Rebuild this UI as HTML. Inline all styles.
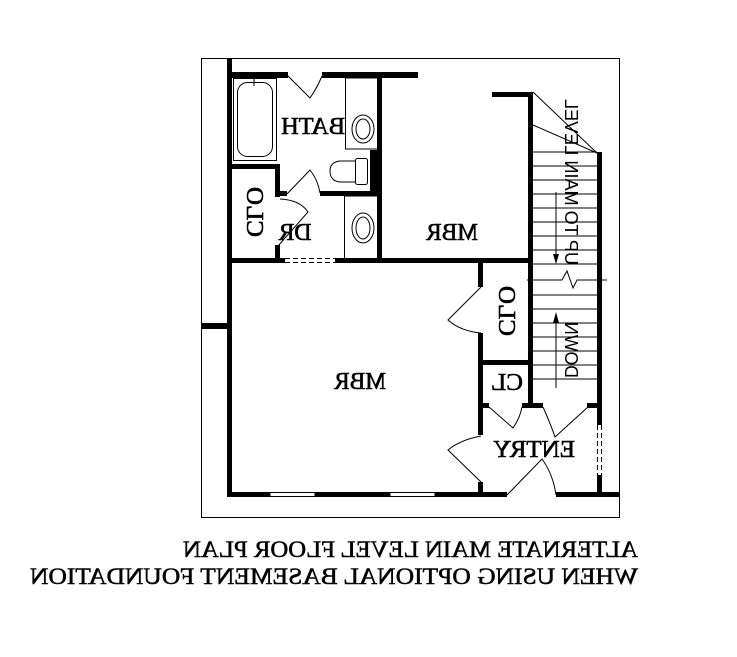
<!DOCTYPE html>
<html><head><meta charset="utf-8"><style>
html,body{margin:0;padding:0;background:#fff;}
svg{display:block;}
text{font-family:"Liberation Serif",serif;fill:#000;}
.s{font-family:"Liberation Sans",sans-serif;}
</style></head><body>
<svg width="737" height="657" viewBox="0 0 737 657" xmlns="http://www.w3.org/2000/svg">
<rect x="0" y="0" width="737" height="657" fill="#fff"/>
<rect x="201.5" y="58.5" width="418" height="459" fill="none" stroke="#000" stroke-width="1"/>
<g fill="#000">
<rect x="227" y="58" width="5" height="439"/>
<rect x="227" y="72" width="61" height="6"/>
<rect x="322" y="72" width="96" height="6"/>
<rect x="377" y="72" width="5" height="191"/>
<rect x="492" y="92" width="41" height="5"/>
<rect x="528" y="92" width="5" height="315"/>
<rect x="597" y="152" width="5" height="273"/>
<rect x="597" y="475" width="5" height="22"/>
<rect x="227" y="164" width="53" height="5"/>
<rect x="275" y="164" width="5" height="33"/>
<rect x="275" y="191" width="12" height="5"/>
<rect x="275" y="245" width="5" height="18"/>
<rect x="320" y="191" width="62" height="5"/>
<rect x="370" y="150" width="10" height="44"/>
<rect x="227" y="258" width="58" height="5"/>
<rect x="335" y="258" width="198" height="5"/>
<rect x="201" y="323" width="28" height="6"/>
<rect x="478" y="258" width="5" height="29"/>
<rect x="478" y="333" width="5" height="102"/>
<rect x="478" y="482" width="5" height="15"/>
<rect x="478" y="360" width="55" height="5"/>
<rect x="478" y="403" width="11" height="5"/>
<rect x="522" y="403" width="21" height="5"/>
<rect x="587" y="403" width="15" height="5"/>
<rect x="227" y="492" width="280" height="5"/>
<rect x="556" y="492" width="64" height="5"/>
</g>
<g fill="#fff" stroke="#000" stroke-width="1">
<rect x="270" y="492.5" width="45" height="4"/>
<rect x="390" y="492.5" width="45" height="4"/>
</g>
<g stroke="#000" stroke-width="1" stroke-dasharray="5,3" fill="none">
<line x1="285" y1="258.5" x2="335" y2="258.5"/>
<line x1="285" y1="262.5" x2="335" y2="262.5"/>
<line x1="597.5" y1="425" x2="597.5" y2="475"/>
<line x1="601.5" y1="425" x2="601.5" y2="475"/>
</g>
<g fill="none" stroke="#000" stroke-width="1">
<rect x="233.5" y="78.5" width="43" height="82"/>
<rect x="237.5" y="82.5" width="35" height="74" rx="10"/>
<line x1="254" y1="76" x2="254" y2="86"/>
<rect x="345.5" y="78" width="32" height="71"/>
<ellipse cx="363" cy="129" rx="11" ry="14"/>
<ellipse cx="363" cy="129" rx="7" ry="10"/>
<rect x="344.5" y="196" width="33" height="63"/>
<ellipse cx="363" cy="228" rx="11" ry="15"/>
<ellipse cx="363" cy="228" rx="7" ry="11"/>
<rect x="355.5" y="158.5" width="12" height="26" rx="2"/>
<path d="M355,161 L340,161 Q330,162 330,171 Q330,181 340,182 L355,182"/>
<path d="M288,76 L310,98 Q317,88 322,76"/>
<path d="M287,194 L310,170 Q318,180 320,193"/>
<path d="M278,246 L308,212 Q300,200 280,199"/>
<path d="M481,287 L448,320 Q460,331 481,333"/>
<path d="M481,436 Q460,440 448,450 L481,482"/>
<path d="M489,407 L513,428 Q520,418 522,407"/>
<path d="M543,407 Q551,425 555,437 L588,407"/>
<path d="M507,495 L542,459 Q553,474 556,495"/>
<line x1="533" y1="92" x2="597" y2="153"/>
<line x1="533" y1="125" x2="597" y2="153"/>
<path d="M533,152H597 M533,166H597 M533,180H597 M533,194H597 M533,208H597 M533,222H597 M533,236H597 M533,250H597 M533,264H597 M533,295H597 M533,309H597 M533,323H597 M533,337H597 M533,351H597 M533,365H597 M533,379H597"/>
<path d="M527,280 L562,280 L567,271 L573,288 L577,280 L607,280"/>
<line x1="556" y1="192" x2="556" y2="258"/>
<line x1="556" y1="322" x2="556" y2="388"/>
</g>
<polygon points="553,254 559,254 556,264" fill="#000"/>
<polygon points="553,323 559,323 556,312" fill="#000"/>
<g font-size="24" stroke="#000" stroke-width="0.6">
<text transform="translate(313,134) scale(-1,1)" text-anchor="middle" textLength="64" lengthAdjust="spacingAndGlyphs">BATH</text>
<text transform="translate(295,240) scale(-1,1)" text-anchor="middle" textLength="33" lengthAdjust="spacingAndGlyphs">DR</text>
<text transform="translate(452,240) scale(-1,1)" text-anchor="middle" textLength="52" lengthAdjust="spacingAndGlyphs">MBR</text>
<text transform="translate(360,389) scale(-1,1)" text-anchor="middle" textLength="52" lengthAdjust="spacingAndGlyphs">MBR</text>
<text transform="translate(507,390) scale(-1,1)" text-anchor="middle" textLength="32" lengthAdjust="spacingAndGlyphs">CL</text>
<text transform="translate(534,457) scale(-1,1)" text-anchor="middle" textLength="82" lengthAdjust="spacingAndGlyphs">ENTRY</text>
<text transform="translate(247,212) scale(-1,1) rotate(-90)" text-anchor="middle" textLength="50" lengthAdjust="spacingAndGlyphs">CLO</text>
<text transform="translate(499,311) scale(-1,1) rotate(-90)" text-anchor="middle" textLength="50" lengthAdjust="spacingAndGlyphs">CLO</text>
</g>
<g font-size="18">
<text class="s" transform="translate(565,182) scale(-1,1) rotate(-90)" text-anchor="middle" textLength="166" lengthAdjust="spacingAndGlyphs">UP TO MAIN LEVEL</text>
<text class="s" transform="translate(565,350) scale(-1,1) rotate(-90)" text-anchor="middle" textLength="56" lengthAdjust="spacingAndGlyphs">DOWN</text>
</g>
<g font-size="23" stroke="#000" stroke-width="0.5">
<text transform="translate(638,557) scale(-1,1)" textLength="455" lengthAdjust="spacingAndGlyphs">ALTERNATE MAIN LEVEL FLOOR PLAN</text>
<text transform="translate(638,584) scale(-1,1)" textLength="608" lengthAdjust="spacingAndGlyphs">WHEN USING OPTIONAL BASEMENT FOUNDATION</text>
</g>
</svg>
</body></html>
